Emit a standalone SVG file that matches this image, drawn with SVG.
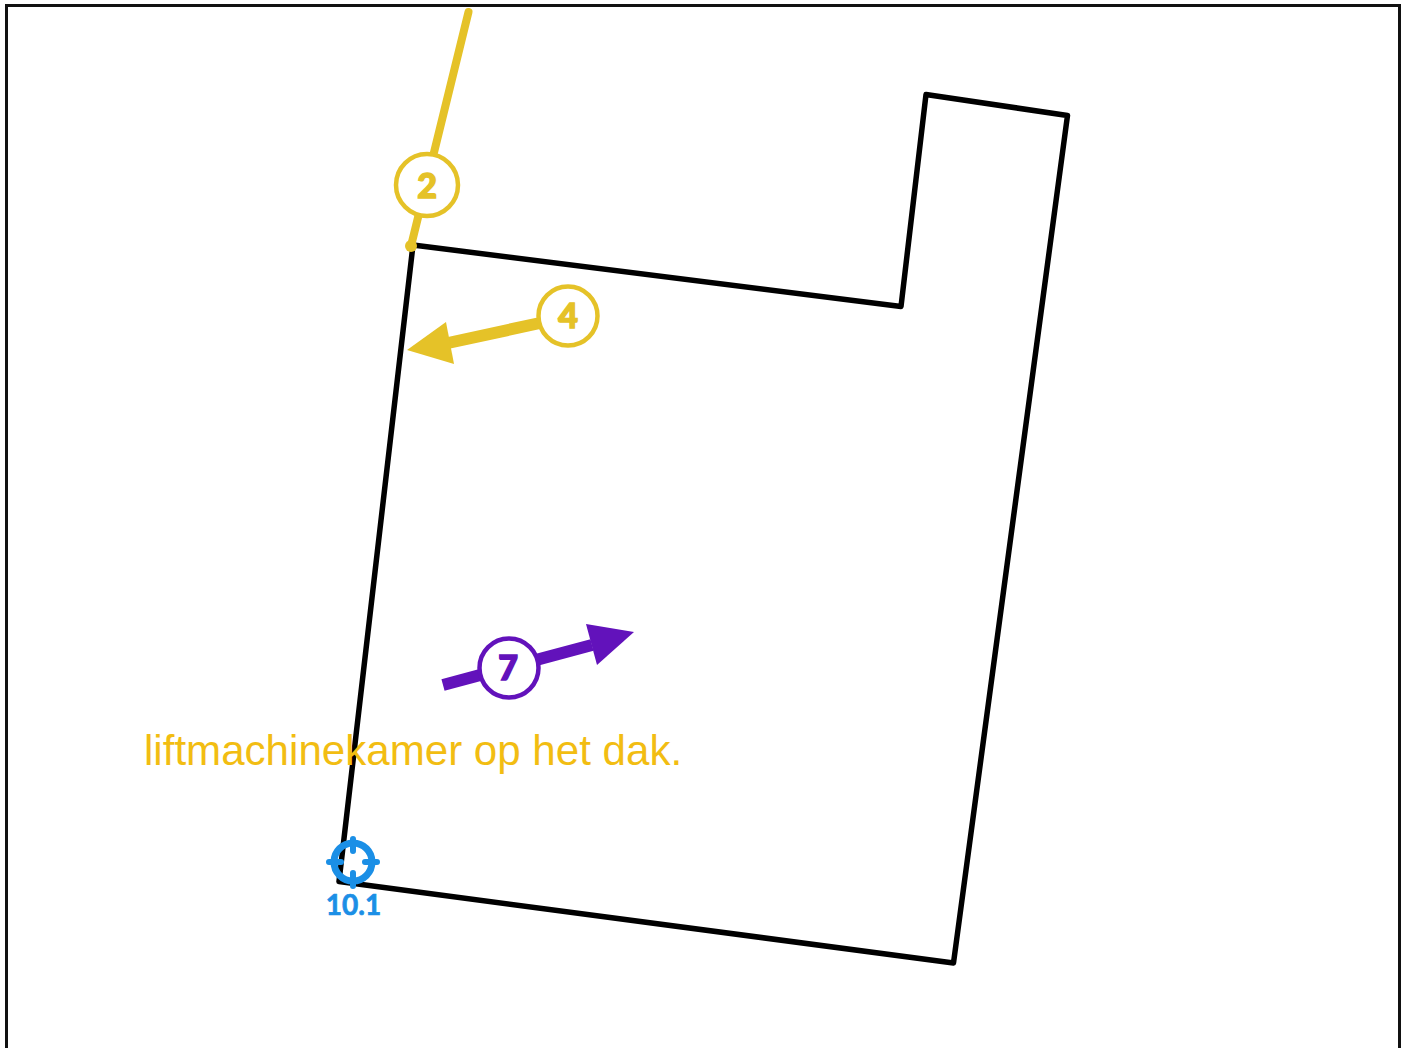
<svg xmlns="http://www.w3.org/2000/svg" width="1405" height="1048" viewBox="0 0 1405 1048">
<style>
.badge{fill:#fff;stroke-width:4.500}
.num{font-family:"Lato","Open Sans",sans-serif;font-weight:900;font-size:34px;text-anchor:middle;stroke-width:1.500}
</style>
<rect width="1405" height="1048" fill="#fff"/>
<path id="frame" d="M6.500 1048V5.500H1399.500V1048" fill="none" stroke="#111" stroke-width="3"/>
<path id="building" d="M413 245L901 306.500L926 94.500L1067.500 115.500L953.500 963L339 881.500Z" fill="none" stroke="#000" stroke-width="5.500" stroke-linejoin="round"/>
<g id="connectors">
<path d="M468.500 12L411 246" fill="none" stroke="#e5c228" stroke-width="8" stroke-linecap="round"/>
<circle cx="411" cy="246" r="6" fill="#e5c228"/>
<path d="M540 323L448 343" fill="none" stroke="#e5c228" stroke-width="12"/>
<path d="M407 350L446 322L454 364Z" fill="#e5c228"/>
<path d="M443 685L592 645" fill="none" stroke="#6212bb" stroke-width="12"/>
<path d="M634 632L586 624L597 665Z" fill="#6212bb"/>
</g>
<g id="node-2"><circle class="badge" cx="427" cy="185" r="31" stroke="#e5c228"/><text class="num" x="427" y="198" fill="#e5c228" stroke="#e5c228">2</text></g>
<g id="node-4"><circle class="badge" cx="568" cy="316" r="29.500" stroke="#e5c228"/><text class="num" x="568" y="328" fill="#e5c228" stroke="#e5c228">4</text></g>
<g id="node-7"><circle class="badge" cx="509" cy="668" r="29.500" stroke="#6212bb"/><text class="num" x="508" y="680" fill="#6212bb" stroke="#6212bb">7</text></g>
<text id="label" x="144" y="765" font-family="Liberation Sans, Arial, sans-serif" font-size="42.100" fill="#f2bd12">liftmachinekamer op het dak.</text>
<g id="node-10-1">
<circle cx="353" cy="862" r="19" fill="none" stroke="#1b8fe6" stroke-width="7"/>
<path d="M353 839V851M353 873V886M329 862H341M365 862H377" fill="none" stroke="#1b8fe6" stroke-width="6" stroke-linecap="round"/>
<text x="353.500" y="915" font-family="Lato, Open Sans, sans-serif" font-weight="700" font-size="28" fill="#1b8fe6" stroke="#1b8fe6" stroke-width="0.700" text-anchor="middle">10.1</text>
</g>
</svg>
